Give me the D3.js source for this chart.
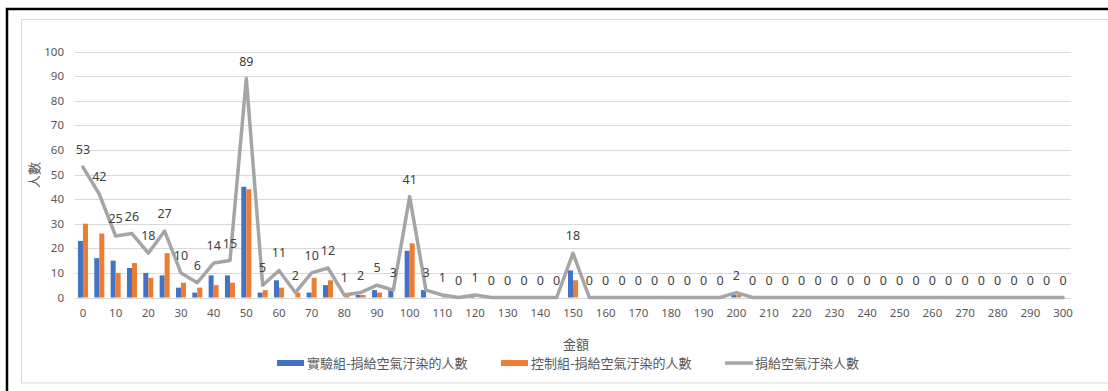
<!DOCTYPE html>
<html><head><meta charset="utf-8">
<script src="https://cdn.jsdelivr.net/npm/d3@7"></script>
<style>
body{margin:0;background:#fff;}
text{font-family:"Noto Sans CJK TC","Noto Sans",sans-serif;}
</style></head>
<body>
<svg id="chart" width="1108" height="391"></svg>
<script>
const categories = [0,5,10,15,20,25,30,35,40,45,50,55,60,65,70,75,80,85,90,95,100,105,110,115,120,125,130,135,140,145,150,155,160,165,170,175,180,185,190,195,200,205,210,215,220,225,230,235,240,245,250,255,260,265,270,275,280,285,290,295,300];
const experimental = [23,16,15,12,10,9,4,2,9,9,45,2,7,0,2,5,0,1,3,3,19,3,0,0,1,0,0,0,0,0,11,0,0,0,0,0,0,0,0,0,1,0,0,0,0,0,0,0,0,0,0,0,0,0,0,0,0,0,0,0,0];
const control      = [30,26,10,14,8,18,6,4,5,6,44,3,4,2,8,7,1,1,2,0,22,0,1,0,0,0,0,0,0,0,7,0,0,0,0,0,0,0,0,0,1,0,0,0,0,0,0,0,0,0,0,0,0,0,0,0,0,0,0,0,0];
const total        = [53,42,25,26,18,27,10,6,14,15,89,5,11,2,10,12,1,2,5,3,41,3,1,0,1,0,0,0,0,0,18,0,0,0,0,0,0,0,0,0,2,0,0,0,0,0,0,0,0,0,0,0,0,0,0,0,0,0,0,0,0];
const yTicks = [0,10,20,30,40,50,60,70,80,90,100];
const xTickLabels = [0,10,20,30,40,50,60,70,80,90,100,110,120,130,140,150,160,170,180,190,200,210,220,230,240,250,260,270,280,290,300];
const seriesNames = ["實驗組-捐給空氣汙染的人數","控制組-捐給空氣汙染的人數","捐給空氣汙染人數"];
const colors = ["#4472c4","#ed7d31","#a5a5a5"];
const yTitle = "人數";
const xTitle = "金額";

const svg = d3.select("#chart");
svg.append("rect").attr("width",1108).attr("height",391).attr("fill","#fff");
// outer black frame (left/top visible)
svg.append("rect").attr("x",7).attr("y",9).attr("width",1300).attr("height",600)
  .attr("fill","none").attr("stroke","#000").attr("stroke-width",2.5);
// inner chart-area border
svg.append("rect").attr("x",21.5).attr("y",19.5).attr("width",1300).attr("height",363.5)
  .attr("fill","none").attr("stroke","#d9d9d9").attr("stroke-width",1);

const x = d3.scaleBand().domain(categories).range([74.8,1071.2]).padding(0);
const sub = d3.scaleBand().domain([0,1]).range([0,x.bandwidth()]).paddingInner(0).paddingOuter(0.63);
const y = d3.scaleLinear().domain([0,100]).range([297.5,51.5]);
const cx = d => x(d) + x.bandwidth()/2;

// gridlines
svg.append("g").selectAll("line").data(yTicks).join("line")
  .attr("x1",74.8).attr("x2",1071.2)
  .attr("y1",d=>Math.round(y(d))+0.5).attr("y2",d=>Math.round(y(d))+0.5)
  .attr("stroke","#d9d9d9").attr("stroke-width",1);

// y axis labels
const yAxis = d3.axisLeft(y).tickValues(yTicks).tickSize(0).tickPadding(0);
const gy = svg.append("g").attr("transform","translate(64,0)").call(yAxis);
gy.select(".domain").remove();
gy.selectAll("text").attr("fill","#595959").style("font-size","11.5px").style("font-family","'Noto Sans','Liberation Sans',sans-serif");

// x axis labels
const xAxis = d3.axisBottom(x).tickValues(xTickLabels).tickSize(0).tickPadding(0);
const gx = svg.append("g").attr("transform","translate(0,309)").call(xAxis);
gx.select(".domain").remove();
gx.selectAll("text").attr("fill","#595959").style("font-size","11.5px").style("font-family","'Noto Sans','Liberation Sans',sans-serif");

// bars
const barData = [experimental, control];
barData.forEach((vals,si)=>{
  svg.append("g").selectAll("rect").data(categories).join("rect")
    .attr("x",(d)=>x(d)+sub(si))
    .attr("width",sub.bandwidth())
    .attr("y",(d,i)=>y(vals[i]))
    .attr("height",(d,i)=>y(0)-y(vals[i]))
    .attr("fill",colors[si]);
});

// line
const line = d3.line().x((d,i)=>cx(categories[i])).y(d=>y(d));
svg.append("path").datum(total).attr("d",line).attr("fill","none")
  .attr("stroke",colors[2]).attr("stroke-width",3.5).attr("stroke-linejoin","round").attr("stroke-linecap","round");

// data labels
svg.append("g").selectAll("text").data(total).join("text")
  .attr("x",(d,i)=>cx(categories[i]))
  .attr("y",d=>y(d)-13)
  .attr("text-anchor","middle")
  .attr("fill","#404040")
  .style("font-size","12.5px").style("font-family","'Noto Sans','Liberation Sans',sans-serif")
  .text(d=>d);

// axis titles
svg.append("text").attr("transform","translate(39,175) rotate(-90)")
  .attr("text-anchor","middle").attr("fill","#595959").style("font-size","13px").text(yTitle);
svg.append("text").attr("x",576).attr("y",349).attr("text-anchor","middle")
  .attr("fill","#595959").style("font-size","13px").text(xTitle);

// legend
const legX = [277,501,725];
seriesNames.forEach((n,i)=>{
  const g = svg.append("g").attr("transform",`translate(${legX[i]},363)`);
  if(i<2){
    g.append("rect").attr("x",0).attr("y",-3).attr("width",27).attr("height",6).attr("fill",colors[i]);
  } else {
    g.append("line").attr("x1",0).attr("x2",28).attr("y1",0).attr("y2",0).attr("stroke",colors[i]).attr("stroke-width",3.5);
  }
  g.append("text").attr("x",30).attr("y",4.5).attr("fill","#595959").style("font-size","13px").text(n);
});
</script>
</body></html>
